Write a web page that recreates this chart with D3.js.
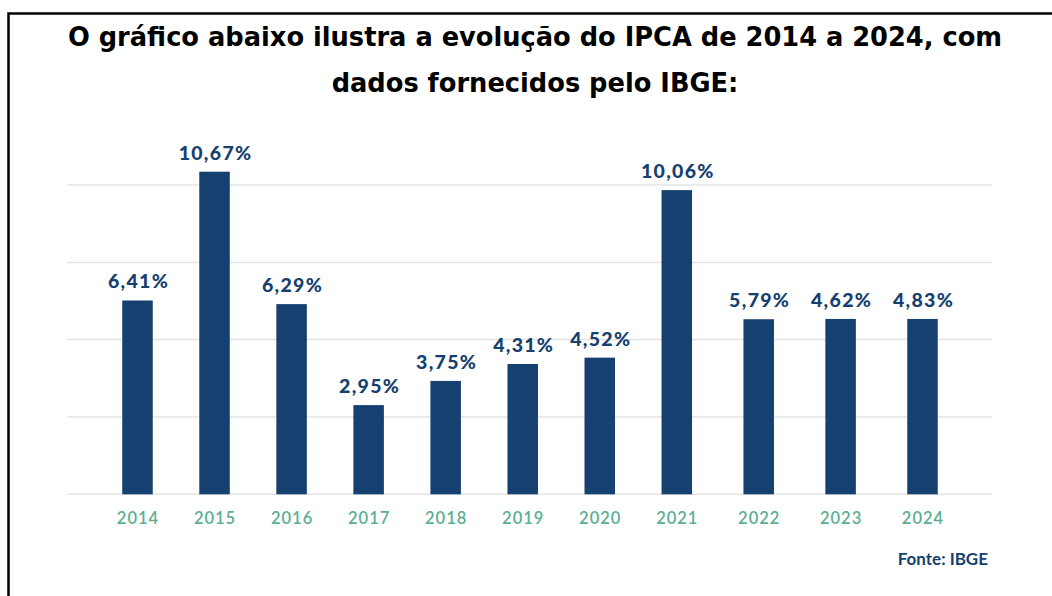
<!DOCTYPE html>
<html>
<head>
<meta charset="utf-8">
<script src="https://cdn.jsdelivr.net/npm/d3@7"></script>
<style>
  body { margin: 0; background: #fff; }
</style>
</head>
<body>
<div id="chart"></div>
<script>

// dados do grafico
var years = ["2014","2015","2016","2017","2018","2019","2020","2021","2022","2023","2024"];
var labels = ["6,41%","10,67%","6,29%","2,95%","3,75%","4,31%","4,52%","10,06%","5,79%","4,62%","4,83%"];
// altura das barras como aparecem na figura (2023 e 2024 desenhadas ~5,8)
var barValues = [6.41, 10.67, 6.29, 2.95, 3.75, 4.31, 4.52, 10.06, 5.79, 5.80, 5.80];
var gridValues = [0, 2.56, 5.12, 7.67, 10.23];
var titleLines = ["O gráfico abaixo ilustra a evolução do IPCA de 2014 a 2024, com",
                  "dados fornecidos pelo IBGE:"];

var width = 1052, height = 596;
var barColor = "#15406f";

var svg = d3.select("#chart").append("svg")
  .attr("width", width)
  .attr("height", height);

// moldura
svg.append("rect")
  .attr("x", 8.5).attr("y", 13.5)
  .attr("width", 1100).attr("height", 700)
  .attr("fill", "none")
  .attr("stroke", "#000")
  .attr("stroke-width", 2.5);

svg.selectAll(".title")
  .data(titleLines)
  .enter()
  .append("text")
  .attr("class", "title")
  .attr("x", 535)
  .attr("y", function(d, i) { return 46 + i * 46; })
  .attr("text-anchor", "middle")
  .style("font-family", "DejaVu Sans, Verdana, sans-serif")
  .style("font-weight", "bold")
  .style("font-size", "25.7px")
  .attr("fill", "#000")
  .text(function(d) { return d; });

// escala x: o espacamento na figura nao e uniforme
var x = d3.scaleLinear()
  .domain([0, 7, 10])
  .range([137.5, 676.8, 922.5]);
var barWidth = 30.5;

var y = d3.scaleLinear()
  .domain([0, 10.23])
  .range([494.3, 185]);

// linhas de grade
svg.append("g")
  .selectAll("line")
  .data(gridValues)
  .enter()
  .append("line")
  .attr("x1", 67).attr("x2", 992)
  .attr("y1", function(d) { return y(d); })
  .attr("y2", function(d) { return y(d); })
  .attr("stroke", "#e3e3e3")
  .attr("stroke-width", 1.5);

svg.append("g")
  .selectAll("rect")
  .data(barValues)
  .enter()
  .append("rect")
  .attr("x", function(d, i) { return x(i) - barWidth / 2; })
  .attr("width", barWidth)
  .attr("y", function(d) { return y(d); })
  .attr("height", function(d) { return y(0) - y(d); })
  .attr("fill", barColor);

svg.append("g")
  .selectAll("text")
  .data(labels)
  .enter()
  .append("text")
  .attr("x", function(d, i) { return x(i) + 1; })
  .attr("y", function(d, i) { return y(barValues[i]) - 12; })
  .attr("text-anchor", "middle")
  .style("font-family", "Lato, sans-serif")
  .style("font-weight", "900")
  .style("font-size", "19.5px")
  .style("letter-spacing", "1.3px")
  .attr("fill", barColor)
  .text(function(d) { return d; });

// eixo x
var xAxis = d3.axisBottom(x)
  .tickValues(d3.range(years.length))
  .tickSize(0)
  .tickPadding(0)
  .tickFormat(function(i) { return years[i]; });

var axisG = svg.append("g")
  .attr("transform", "translate(0,512)")
  .call(xAxis);
axisG.select(".domain").remove();
axisG.selectAll("text")
  .attr("dy", "0.71em")
  .style("font-family", "Lato, sans-serif")
  .style("font-weight", "600")
  .style("font-size", "16.5px")
  .style("letter-spacing", "1px")
  .attr("fill", "#5aae91");

svg.append("text")
  .attr("x", 988)
  .attr("y", 565)
  .attr("text-anchor", "end")
  .style("font-family", "Lato, sans-serif")
  .style("font-weight", "bold")
  .style("font-size", "17px")
  .attr("fill", barColor)
  .text("Fonte: IBGE");

</script>
</body>
</html>
